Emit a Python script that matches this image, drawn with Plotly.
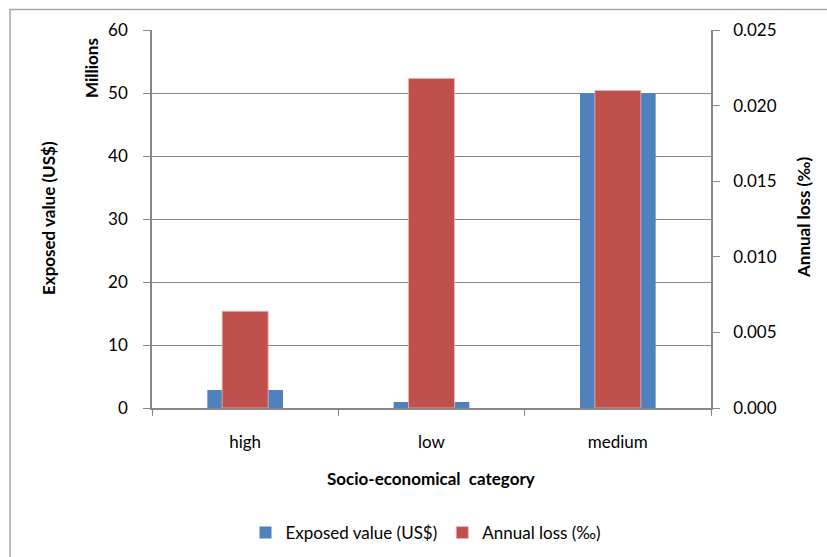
import plotly.graph_objects as go

# Exposed value and annual loss by socio-economic category
categories = ["high", "low", "medium"]
exposed_value_millions = [2.85, 0.95, 50.0]
annual_loss_permille = [0.0064, 0.0218, 0.0210]

left_ticks = [0, 10, 20, 30, 40, 50, 60]
right_ticks = [0.000, 0.005, 0.010, 0.015, 0.020, 0.025]

W, H = 827, 557
L, R, T, B = 152, 711, 30, 408  # plot area in pixels

FONT = "Lato, 'Open Sans', sans-serif"
GRAY = "#878787"


def px(xp):
    return (xp - L) / (R - L)


def py(yp):
    return (B - yp) / (B - T)


fig = go.Figure()
fig.add_trace(go.Bar(
    x=categories, y=exposed_value_millions, name="Exposed value (US$)",
    marker=dict(color="#4F81BD", line=dict(width=0)), width=0.406, yaxis="y",
))
fig.add_trace(go.Bar(
    x=categories, y=annual_loss_permille, name="Annual loss (‰)",
    marker=dict(color="#C0504D", line=dict(color="#E6B9B8", width=0.8)),
    width=0.247, yaxis="y2",
))

fig.update_layout(
    width=W, height=H,
    margin=dict(l=L, r=W - R, t=T, b=H - B, pad=0, autoexpand=False),
    paper_bgcolor="white", plot_bgcolor="white",
    barmode="overlay",
    font=dict(family=FONT, size=17, color="#000000"),
    xaxis=dict(
        type="category", tickson="boundaries", ticks="outside", ticklen=6,
        tickcolor=GRAY, showline=True, linecolor=GRAY, linewidth=1.5,
        showgrid=False, tickfont=dict(size=17), range=[-0.5, 2.5],
        ticklabelstandoff=18, automargin=False,
    ),
    yaxis=dict(
        range=[0, 60], tickvals=left_ticks, ticks="outside", ticklen=7,
        tickcolor=GRAY, showline=True, linecolor=GRAY, linewidth=1.5,
        showgrid=True, gridcolor=GRAY, gridwidth=1, zeroline=False,
        tickfont=dict(size=17), ticklabelstandoff=12, automargin=False,
    ),
    yaxis2=dict(
        range=[0, 0.025], tickvals=right_ticks, tickformat=".3f",
        overlaying="y", side="right", ticks="outside", ticklen=7,
        tickcolor=GRAY, showline=True, linecolor=GRAY, linewidth=1.5,
        showgrid=False, zeroline=False, tickfont=dict(size=17),
        ticklabelstandoff=10, automargin=False,
    ),
    legend=dict(
        orientation="h", x=px(426), y=py(533), xanchor="center", yanchor="middle",
        font=dict(size=17), itemwidth=30, traceorder="normal",
    ),
    showlegend=True,
)

annotations = [
    dict(text="<b>Socio-economical  category</b>", x=px(431), y=py(478),
         font=dict(size=17)),
    dict(text="<b>Exposed value (US$)</b>", x=px(48), y=py(218),
         textangle=-90, font=dict(size=17)),
    dict(text="<b>Millions</b>", x=px(91), y=py(68),
         textangle=-90, font=dict(size=17)),
    dict(text="<b>Annual loss (‰)</b>", x=px(803), y=py(218),
         textangle=-90, font=dict(size=17)),
]
for a in annotations:
    fig.add_annotation(xref="paper", yref="paper", showarrow=False,
                       xanchor="center", yanchor="middle", **a)

# Chart-area frame
fig.add_shape(type="rect", xref="paper", yref="paper",
              x0=px(10), x1=px(840), y0=py(570), y1=py(9.5),
              line=dict(color="#A6A6A6", width=1.5), layer="below")

fig.write_html("out.html")
